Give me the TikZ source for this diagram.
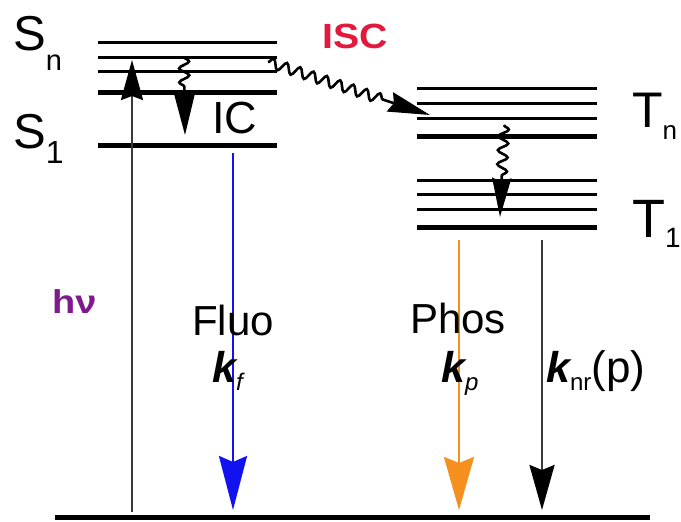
\documentclass[tikz,border=0pt]{standalone}
\usepackage{fontspec}
\setmainfont{Liberation Sans}
\usetikzlibrary{arrows.meta,decorations.pathmorphing}
\definecolor{iscred}{HTML}{E2183C}
\definecolor{hvpurple}{HTML}{7E1A8E}
\definecolor{fluoblue}{HTML}{1212F0}
\definecolor{phosorange}{HTML}{F5901E}
\definecolor{exgray}{HTML}{3A3A3A}
\newcommand{\fs}[1]{\fontsize{#1}{#1}\selectfont}
\begin{document}
\begin{tikzpicture}[x=1pt,y=-1pt,
  thinlvl/.style={line width=3pt},
  thicklvl/.style={line width=5pt},
  txt/.style={inner sep=0pt, anchor=base west},
  ctxt/.style={inner sep=0pt, anchor=base},
  radarrow/.style={line width=2.5pt},
  wavy/.style={line width=2.6pt, decorate,
    decoration={snake, amplitude=5pt, segment length=14pt, post length=#1}},
]
\useasboundingbox (0,0) rectangle (681,522);

% singlet levels
\foreach \y in {42,57,71} \draw[thinlvl] (98,\y) -- (277,\y);
\draw[thicklvl] (98,92) -- (277,92);
\draw[thicklvl] (98,145) -- (277,145);
% triplet levels
\foreach \y in {88,103,118,180,194,209} \draw[thinlvl] (417,\y) -- (597,\y);
\draw[thicklvl] (417,136) -- (597,136);
\draw[thicklvl] (417,227) -- (597,227);
% ground state
\draw[line width=5pt] (55,517) -- (650,517);

% coordinates
\coordinate (exA) at (132,512);
\coordinate (exB) at (132,60);
\coordinate (flA) at (233,153);
\coordinate (flB) at (233,510);
\coordinate (phA) at (459,240);
\coordinate (phB) at (459,510);
\coordinate (nrA) at (542,240);
\coordinate (nrB) at (542,510);
\coordinate (icA) at (184,57);
\coordinate (icB) at (185,135);
\coordinate (iscA) at (268,62);
\coordinate (iscB) at (430,115);
\coordinate (ticA) at (504,125);
\coordinate (ticB) at (500,217);

% excitation
\draw[radarrow, exgray, -{Stealth[length=40pt,width=22pt,inset=4pt,black]}] (exA) -- (exB);
% fluorescence
\draw[radarrow, fluoblue, -{Stealth[length=54pt,width=28pt,inset=6pt]}] (flA) -- (flB);
% phosphorescence
\draw[radarrow, phosorange, -{Stealth[length=53pt,width=30pt,inset=6pt]}] (phA) -- (phB);
% non-radiative
\draw[radarrow, exgray, -{Stealth[length=45pt,width=25pt,inset=5pt,black]}] (nrA) -- (nrB);
% IC
\draw[wavy=46pt, -{Stealth[length=44pt,width=22pt,inset=4pt]}] (icA) -- (icB);
% ISC
\draw[wavy=44pt, -{Stealth[length=42pt,width=20pt,inset=4pt]}] (iscA) -- (iscB);
% triplet IC
\draw[wavy=41pt, -{Stealth[length=39pt,width=19pt,inset=4pt]}] (ticA) -- (ticB);

% labels
\node[txt] (Sn) at (13,50) {\fs{49}S\raisebox{-20pt}{\fs{29}n}};
\node[txt] (S1) at (13,148) {\fs{49}S\raisebox{-15pt}{\fs{32}1}};
\node[txt] (Tn) at (632,127) {\fs{50}T\raisebox{-12pt}{\fs{26}n}};
\node[txt] (T1) at (632,237) {\fs{54}T\raisebox{-10pt}{\fs{28}1}};
\node[txt] (IC) at (212,133) {\fs{45}IC};
\node[txt, iscred, xscale=1.12] (ISC) at (322,48) {\fs{35}\bfseries ISC};
\node[txt, hvpurple, xscale=1.15] (hv) at (52,313) {\fs{33}\bfseries hν};
\node[ctxt] (Fluo) at (233,335) {\fs{42}Fluo};
\node[ctxt] (Phos) at (458,333) {\fs{42}Phos};
\node[txt] (kf) at (212,382) {\fs{43}\bfseries\itshape k\raisebox{-8pt}{\fs{24}\mdseries f}};
\node[txt] (kp) at (441,382) {\fs{43}\bfseries\itshape k\raisebox{-8pt}{\fs{24}\mdseries p}};
\node[txt] (knr) at (546,382) {\fs{43}{\bfseries\itshape k}\raisebox{-8pt}{\fs{24}nr}\fs{44}(p)};
\end{tikzpicture}
\end{document}
